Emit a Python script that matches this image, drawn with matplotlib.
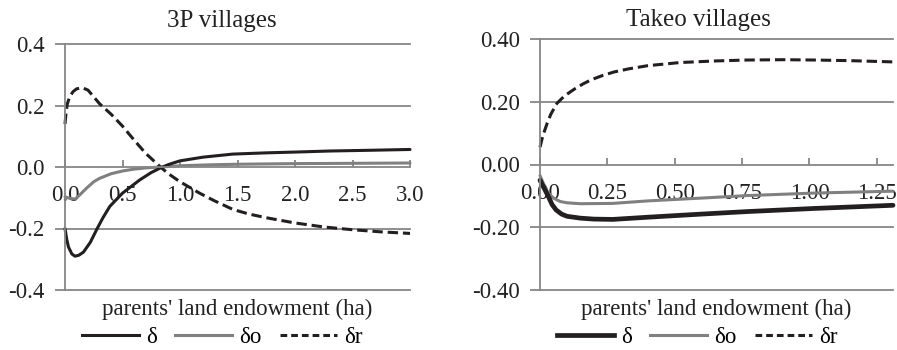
import matplotlib
matplotlib.use("Agg")
import matplotlib.pyplot as plt
from matplotlib.lines import Line2D
from matplotlib.ticker import FormatStrFormatter

plt.rcParams['font.family'] = ['Liberation Serif', 'DejaVu Serif']

# ---- data: 3P villages ----
x3p_d = [0, 0.015, 0.03, 0.06, 0.087, 0.12, 0.16, 0.22, 0.28, 0.33, 0.39, 0.5, 0.65, 0.75, 0.83,
         0.9, 1.0, 1.2, 1.46, 1.75, 2.04, 2.3, 2.6, 3.0]
d3p = [-0.20, -0.235, -0.26, -0.283, -0.29, -0.287, -0.277, -0.245, -0.20, -0.165, -0.128, -0.085,
       -0.042, -0.018, -0.003, 0.008, 0.02, 0.032, 0.042, 0.046, 0.049, 0.052, 0.054, 0.057]

x3p_o = [0, 0.05, 0.09, 0.13, 0.19, 0.25, 0.3, 0.4, 0.5, 0.6, 0.7, 0.83, 1.0, 1.25, 1.5, 2.0, 2.5, 3.0]
o3p = [-0.097, -0.103, -0.104, -0.09, -0.068, -0.048, -0.037, -0.022, -0.013, -0.007, -0.003, 0.0,
       0.004, 0.007, 0.009, 0.011, 0.012, 0.013]

x3p_r = [0, 0.01, 0.02, 0.04, 0.07, 0.1, 0.15, 0.2, 0.3, 0.4, 0.5, 0.6, 0.7, 0.83, 0.9, 1.0, 1.17,
         1.3, 1.46, 1.6, 1.75, 2.0, 2.25, 2.5, 2.75, 3.0]
r3p = [0.14, 0.18, 0.205, 0.228, 0.245, 0.254, 0.258, 0.25, 0.206, 0.172, 0.133, 0.088, 0.045,
       0.0, -0.022, -0.048, -0.085, -0.11, -0.138, -0.153, -0.165, -0.182, -0.195, -0.204, -0.211, -0.216]

# ---- data: Takeo villages ----
xtk_d = [0, 0.015, 0.03, 0.045, 0.06, 0.08, 0.1, 0.15, 0.2, 0.27, 0.4, 0.6, 0.77, 1.02, 1.31]
dtk = [-0.05, -0.075, -0.10, -0.128, -0.145, -0.158, -0.165, -0.171, -0.174, -0.175, -0.168,
       -0.158, -0.15, -0.14, -0.13]

xtk_o = [0, 0.015, 0.03, 0.05, 0.075, 0.1, 0.15, 0.27, 0.4, 0.6, 0.77, 1.02, 1.31]
otk = [-0.035, -0.065, -0.09, -0.107, -0.118, -0.122, -0.125, -0.124, -0.116, -0.107, -0.099,
       -0.091, -0.085]

xtk_r = [0, 0.01, 0.026, 0.04, 0.063, 0.09, 0.127, 0.16, 0.19, 0.23, 0.275, 0.33, 0.4, 0.52,
         0.65, 0.77, 0.9, 1.02, 1.15, 1.31]
rtk = [0.055, 0.09, 0.13, 0.16, 0.195, 0.218, 0.24, 0.257, 0.27, 0.283, 0.295, 0.305, 0.315,
       0.325, 0.33, 0.333, 0.334, 0.333, 0.331, 0.327]

labels = ['δ', 'δo', 'δr']
titles = ['3P villages', 'Takeo villages']
xlabel = "parents' land endowment (ha)"

BLACK = '#231f20'
GRAY = '#808080'
AX = '#868686'
FS = 16.5
TXT = '#222222'

fig = plt.figure(figsize=(8.97, 3.5), dpi=100)
W, H = 897.0, 350.0

def setup(ax, xmax, xticks, yticks, xfmt, yfmt):
    ax.set_xlim(0, xmax)
    ax.set_ylim(yticks[0], yticks[-1])
    for s in ['top', 'right']:
        ax.spines[s].set_visible(False)
    ax.spines['bottom'].set_position(('data', 0))
    for s in ['left', 'bottom']:
        ax.spines[s].set_color(AX)
        ax.spines[s].set_linewidth(1.3)
    ax.set_xticks(xticks)
    ax.set_yticks(yticks)
    ax.xaxis.set_major_formatter(FormatStrFormatter(xfmt))
    ax.yaxis.set_major_formatter(FormatStrFormatter(yfmt))
    for y in yticks:
        if y != 0:
            ax.axhline(y, color=AX, lw=1.3, zorder=0, clip_on=False)
    ax.tick_params(axis='x', direction='in', length=5, width=1.3, color=AX, pad=13,
                   labelsize=FS, labelcolor=TXT)
    ax.tick_params(axis='y', direction='out', length=7, width=1.3, color=AX, pad=7.5,
                   labelsize=FS, labelcolor=TXT)
    ax.patch.set_alpha(0)

# left panel
ax1 = fig.add_axes([65 / W, 60 / H, 345 / W, 246 / H])
setup(ax1, 3.0, [0, 0.5, 1.0, 1.5, 2.0, 2.5, 3.0], [-0.4, -0.2, 0.0, 0.2, 0.4], '%.1f', '%.1f')
ax1.plot(x3p_o, o3p, color=GRAY, lw=2.2, solid_capstyle='round', clip_on=False)
ax1.plot(x3p_d, d3p, color=BLACK, lw=2.2, solid_capstyle='round', clip_on=False)
ax1.plot(x3p_r, r3p, color=BLACK, lw=2.2, ls=(0, (3.4, 1.6)), clip_on=False)

# right panel
ax2 = fig.add_axes([540 / W, 60 / H, 353 / W, 251 / H])
setup(ax2, 1.31, [0, 0.25, 0.5, 0.75, 1.0, 1.25], [-0.4, -0.2, 0.0, 0.2, 0.4], '%.2f', '%.2f')
ax2.plot(xtk_o, otk, color=GRAY, lw=2.2, solid_capstyle='round', clip_on=False)
ax2.plot(xtk_d, dtk, color=BLACK, lw=3.4, solid_capstyle='round', clip_on=False)
ax2.plot(xtk_r, rtk, color=BLACK, lw=2.2, ls=(0, (3.4, 1.6)), clip_on=False)

# titles and labels
fig.text(222 / W, 1 - 27 / H, titles[0], ha='center', va='baseline', fontsize=18, color=TXT)
fig.text(698 / W, 1 - 26 / H, titles[1], ha='center', va='baseline', fontsize=18, color=TXT)
fig.text(237 / W, 1 - 315 / H, xlabel, ha='center', va='baseline', fontsize=FS, color=TXT)
fig.text(716 / W, 1 - 315 / H, xlabel, ha='center', va='baseline', fontsize=FS, color=TXT)

def legend(cx, dlw):
    handles = [Line2D([], [], color=BLACK, lw=dlw),
               Line2D([], [], color=GRAY, lw=2.2),
               Line2D([], [], color=BLACK, lw=2.2, ls=(0, (2.2, 1.3)))]
    fig.legend(handles, labels, loc='center', bbox_to_anchor=(cx / W, 13 / H), ncol=3,
               frameon=False, fontsize=FS, handlelength=2.5, handletextpad=0.3,
               columnspacing=0.8, borderaxespad=0, borderpad=0)

legend(222, 2.2)
legend(697, 3.4)

fig.savefig('out.png', dpi=100)
